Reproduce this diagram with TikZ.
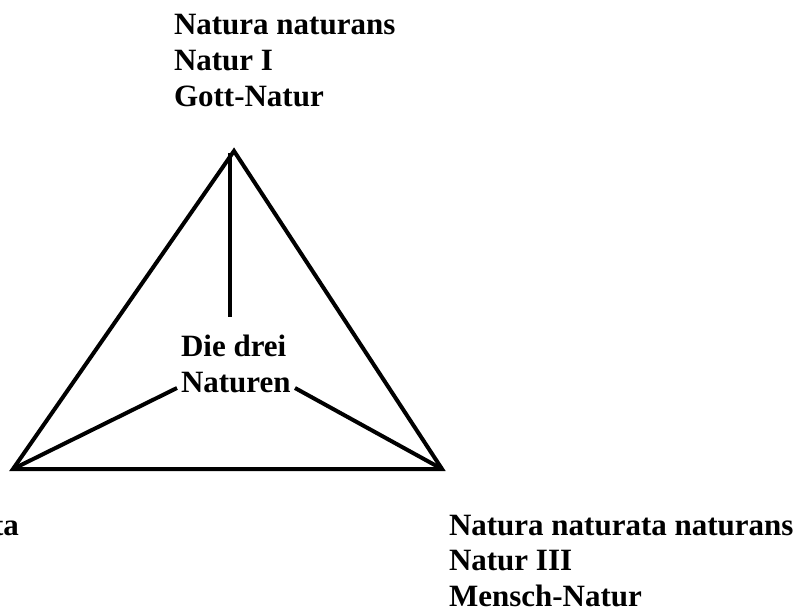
\documentclass[tikz,border=0pt]{standalone}
\usepackage{fontspec}
\setmainfont{Liberation Serif}
\begin{document}
\begin{tikzpicture}[x=1pt,y=-1pt, line width=4pt,
  lbl/.style={inner sep=0pt, anchor=base west, font=\bfseries\fontsize{31}{35.8}\selectfont},
  lble/.style={lbl, anchor=base east}]
\useasboundingbox (0,0) rectangle (795,609);
\coordinate (A) at (234,151);
\coordinate (L) at (13,469);
\coordinate (R) at (442,469);
\draw[line join=miter] (L) -- (A) -- (R) -- cycle;
\coordinate (Atop) at (230,153);
\coordinate (vend) at (230,317);
\coordinate (lend) at (177,388);
\coordinate (rend) at (295,388);
\draw (Atop) -- (vend);
\draw (L) -- (lend);
\draw (rend) -- (R);
\node[lbl] (top) at (172,34.5) {\begin{tabular}[t]{@{}l@{}}Natura naturans\\Natur I\\Gott-Natur\end{tabular}};
\node[lbl] (mid) at (179,356.5) {\begin{tabular}[t]{@{}l@{}}Die drei\\Naturen\end{tabular}};
\node[lbl] (right) at (447,535) {\begin{tabular}[t]{@{}l@{}}Natura naturata naturans\\Natur III\\Mensch-Natur\end{tabular}};
\node[lble] (left) at (21,535) {ta};
\end{tikzpicture}
\end{document}
